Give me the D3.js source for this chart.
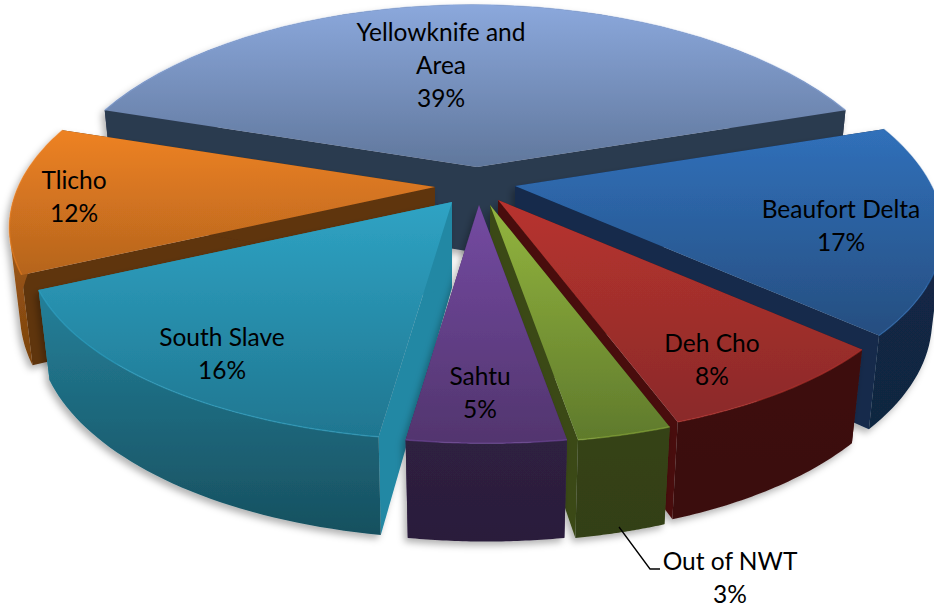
<!DOCTYPE html>
<html><head><meta charset="utf-8">
<script src="https://cdn.jsdelivr.net/npm/d3@7"></script>
<style>html,body{margin:0;background:#fff}svg{display:block}text{font-family:Lato,"Open Sans",sans-serif;fill:#000}</style>
</head><body><svg id="c" width="934" height="607"></svg>
<script>
const categories = ["Yellowknife and|Area","Beaufort Delta","Deh Cho","Out of NWT","Sahtu","South Slave","Tlicho"];
const percents = [39,17,8,3,5,16,12];
const drawOrder = [0,6,1,5,2,3,4];
// layout (not data)
const tipX = [477,515,498,490,479,452,435];
const tipY = [167,186,200,205,205,202,187];
const labelX = [441,841,712,730,480,222,74];
const labelY = [32,209,343,561,376,337,180];
const topA = ["#8ba8dc","#3070ba","#b8332e","#93b53e","#744aa2","#2fa3c4","#ee8222"];
const topB = ["#60779c","#264e80","#8a2a2a","#5f7a2c","#52356e","#1f7690","#b5641e"];
const wallA = ["#2c3a50","#13294a","#3d0f0e","#354319","#2e2040","#24809a","#c06a1a"];
const wallB = ["#2c3a50","#112640","#3a0f0e","#333f18","#2b1e3b","#17505f","#7a430f"];
const sideC = ["#2c3a50","#132a4c","#4a1110","#3a4a17","#3a2650","#2288a4","#5e3410"];
const leader = [[619,527],[650,569],[660,569]];

const svg = d3.select("#c");
const defs = svg.append("defs");
const blur = defs.append("filter").attr("id","sh").attr("x","-10%").attr("y","-10%").attr("width","125%").attr("height","125%");
blur.append("feDropShadow").attr("dx",-3).attr("dy",4).attr("stdDeviation",3.5).attr("flood-color","#000").attr("flood-opacity",0.3);

const A=419,B=193,P=0.19,C=88,Rz=0.025,Sk=6,E=5.5;
function proj(th,r,z,i){
  const u=Math.sin(th)*r,v=-Math.cos(th)*r,w=1-P*v+Rz*z;
  return [tipX[i]+(A*u+Sk*v)/w, tipY[i]+(B*v+C*z+E*u*u)/w];
}
const pie=d3.pie().sort(null).startAngle(-70.2*Math.PI/180).endAngle(289.8*Math.PI/180);
const arcs=pie(percents);
const line=d3.line();
function rim(a,z,i){
  return d3.range(0,41).map(k=>proj(a.startAngle+(a.endAngle-a.startAngle)*k/40,1,z,i));
}
function grad(id,c1,c2,y1,y2){
  const g=defs.append("linearGradient").attr("id",id).attr("gradientUnits","userSpaceOnUse")
    .attr("x1",0).attr("y1",y1).attr("x2",0).attr("y2",y2);
  g.append("stop").attr("offset",0).attr("stop-color",c1);
  g.append("stop").attr("offset",1).attr("stop-color",c2);
}
drawOrder.forEach(i=>{
  const a=arcs[i];
  const rt=rim(a,0,i),rb=rim(a,1,i);
  const t0=proj(0,0,0,i),t1=proj(0,0,1,i);
  const ys=rt.concat([t0]).map(p=>p[1]), yw=rt.concat(rb).map(p=>p[1]);
  grad("t"+i,topA[i],topB[i],d3.min(ys),d3.max(ys));
  grad("w"+i,wallA[i],wallB[i],d3.min(yw),d3.max(yw));
  const g=svg.append("g").attr("filter","url(#sh)");
  g.append("path").attr("d",line([t0,t1,rb[0],rt[0]])+"Z").attr("fill",sideC[i]);
  g.append("path").attr("d",line([t0,t1,rb[40],rt[40]])+"Z").attr("fill",sideC[i]);
  // outer wall: one path of equally wound quads, so that folded parts of the ribbon still fill
  const quads=d3.range(40).map(k=>{
    const q=[rt[k],rt[k+1],rb[k+1],rb[k]];
    return line(d3.polygonArea(q)<0?q.reverse():q)+"Z";
  }).join("");
  g.append("path").attr("d",quads).attr("fill","url(#w"+i+")");
  g.append("path").attr("d",line([t0].concat(rt))+"Z").attr("fill","url(#t"+i+")");
  g.append("path").attr("d",line(rt)).attr("fill","none").attr("stroke",topA[i]).attr("stroke-opacity",0.55).attr("stroke-width",1.5);
});
svg.append("path").attr("d",line(leader)).attr("fill","none").attr("stroke","#000").attr("stroke-width",1.3);
categories.forEach((c,i)=>{
  const lines=c.split("|").concat([percents[i]+"%"]);
  lines.forEach((s,k)=>{
    svg.append("text").attr("x",labelX[i]).attr("y",labelY[i]+k*33).attr("dy","0.35em")
      .attr("text-anchor","middle").attr("font-size",24.5).text(s);
  });
});
</script></body></html>
